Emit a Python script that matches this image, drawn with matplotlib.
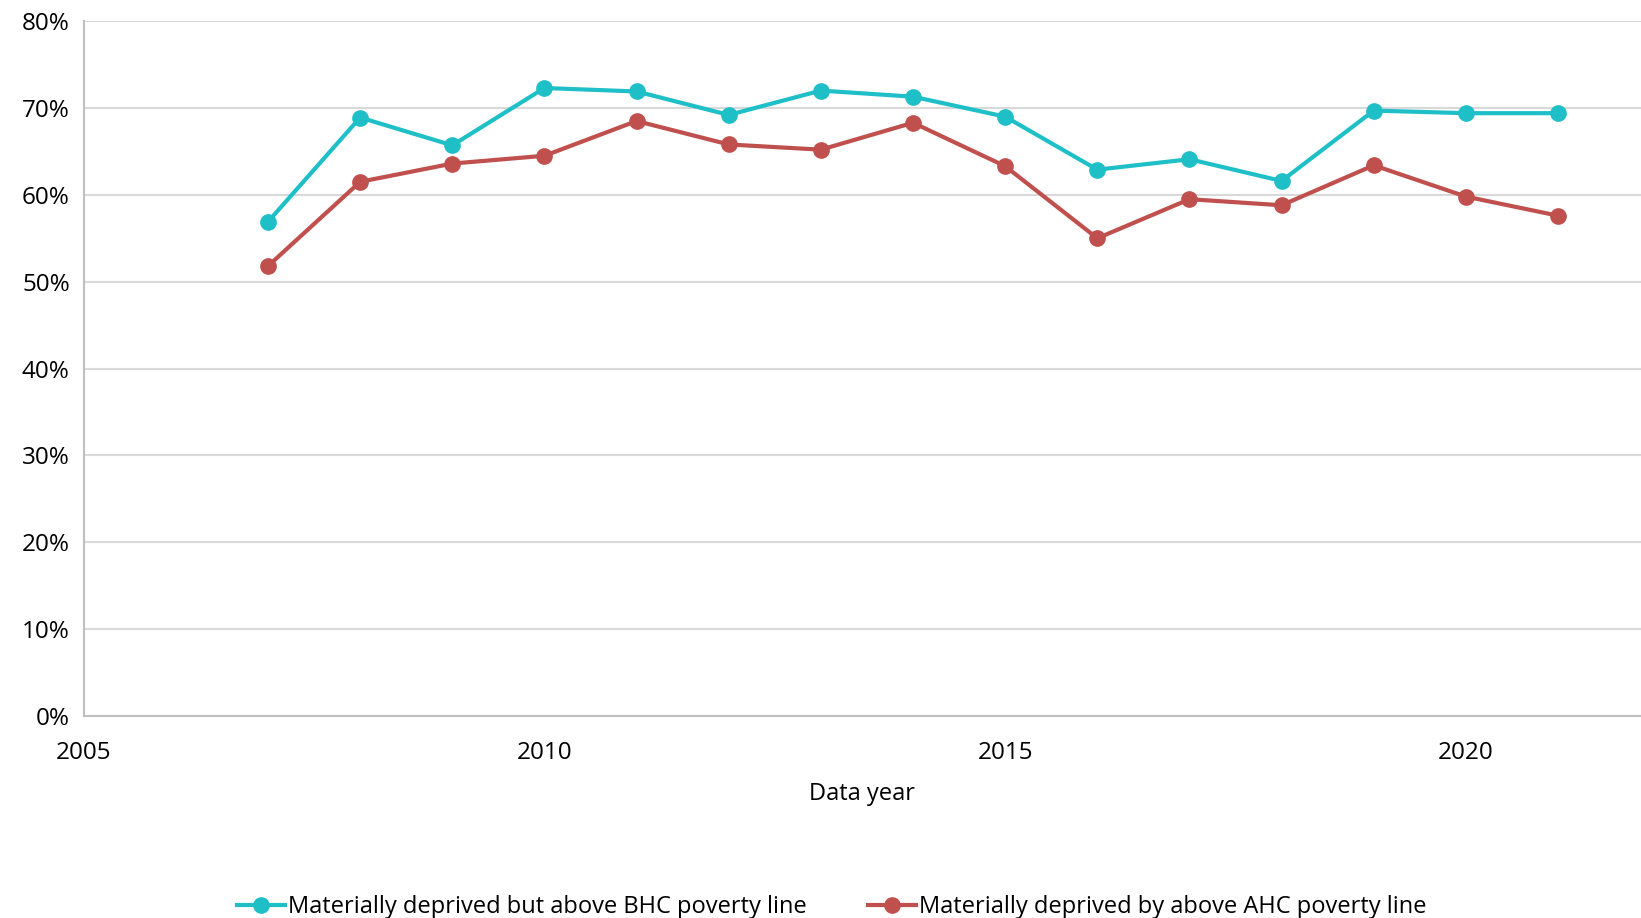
import numpy as np
import matplotlib
matplotlib.use("Agg")
import matplotlib.pyplot as plt
from matplotlib.ticker import FuncFormatter

plt.rcParams['font.family'] = ['Open Sans', 'DejaVu Sans']

years = [2007, 2008, 2009, 2010, 2011, 2012, 2013, 2014, 2015, 2016, 2017, 2018, 2019, 2020, 2021]
bhc = [56.9, 68.9, 65.7, 72.3, 71.9, 69.2, 72.0, 71.3, 69.0, 62.9, 64.1, 61.6, 69.7, 69.4, 69.4]
ahc = [51.8, 61.5, 63.6, 64.5, 68.5, 65.8, 65.2, 68.3, 63.3, 55.0, 59.5, 58.8, 63.4, 59.8, 57.6]

bhc_label = "Materially deprived but above BHC poverty line"
ahc_label = "Materially deprived by above AHC poverty line"

fig = plt.figure(figsize=(16.41, 9.18), dpi=100)
ax = fig.add_axes([0.051, 0.22, 0.949, 0.757])

ax.plot(years, bhc, '-o', color='#1fbfc8', lw=3, ms=11, label=bhc_label)
ax.plot(years, ahc, '-o', color='#c0504d', lw=3, ms=11, label=ahc_label)

ax.set_xlim(2005, 2021.9)
ax.set_ylim(0, 80)
ax.set_xticks([2005, 2010, 2015, 2020])
ax.set_yticks(np.arange(0, 81, 10))
ax.yaxis.set_major_formatter(FuncFormatter(lambda v, p: f"{v:.0f}%"))
ax.grid(axis='y', color='#d9d9d9', lw=1.5)
ax.set_axisbelow(True)
ax.tick_params(length=0, labelsize=17.5, pad=10)
ax.tick_params(axis='x', pad=18)
for s in ['top', 'right']:
    ax.spines[s].set_visible(False)
for s in ['left', 'bottom']:
    ax.spines[s].set_color('#bfbfbf')
    ax.spines[s].set_linewidth(1.5)

ax.set_xlabel("Data year", fontsize=17, labelpad=12)

fig.legend(loc='lower center', bbox_to_anchor=(0.507, -0.024), ncol=2, frameon=False,
           fontsize=17, handlelength=2.0, handletextpad=0.15, columnspacing=2.6)

fig.savefig("out.png", dpi=100)
